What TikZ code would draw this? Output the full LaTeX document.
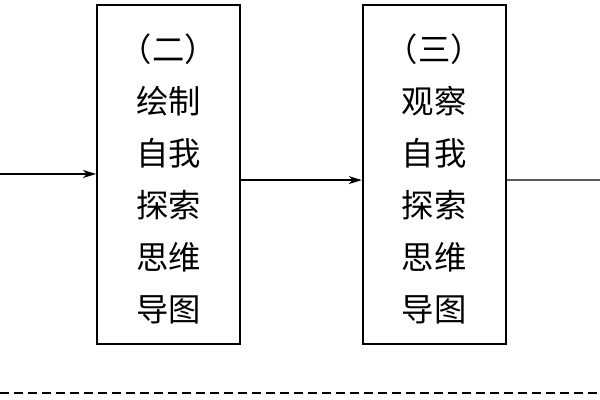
\documentclass[tikz,border=0pt]{standalone}
\usepackage{fontspec}
\newfontfamily\cjk[RawFeature=+halt]{Noto Sans CJK SC}
\usetikzlibrary{arrows.meta,positioning}

\tikzset{
  stepbox/.style={draw, line width=1.2pt, minimum width=3.575cm,
    minimum height=8.475cm, align=center, inner sep=0pt,
    font=\cjk\fontsize{23}{37}\selectfont},
  flow/.style={line width=0.9pt, -{Stealth[length=3.3mm,width=2mm,inset=1mm]}}
}

\begin{document}
\begin{tikzpicture}
  \useasboundingbox (0,0) rectangle (15,10);

  \node[stepbox] (draw)                          at (4.2125,5.6375) {\rule{0pt}{26pt}（二）\\绘制\\自我\\探索\\思维\\导图};
  \node[stepbox] (watch) [right=3.025cm of draw]                   {\rule{0pt}{26pt}（三）\\观察\\自我\\探索\\思维\\导图};

  \coordinate (in)  at (0,5.65);
  \coordinate (out) at (15,5.5);
  \coordinate (dl)  at (0,0.175);
  \coordinate (dr)  at (15,0.175);

  \draw[flow] (in) -- (in -| draw.west);
  \draw[flow] ([yshift=-0.14cm]draw.east) -- ([yshift=-0.14cm]watch.west);
  \draw[line width=0.9pt] ([yshift=-0.14cm]watch.east) -- (out);
  \draw[line width=0.9pt, dash pattern=on 0.225cm off 0.125cm] (dl) -- (dr);
\end{tikzpicture}
\end{document}
